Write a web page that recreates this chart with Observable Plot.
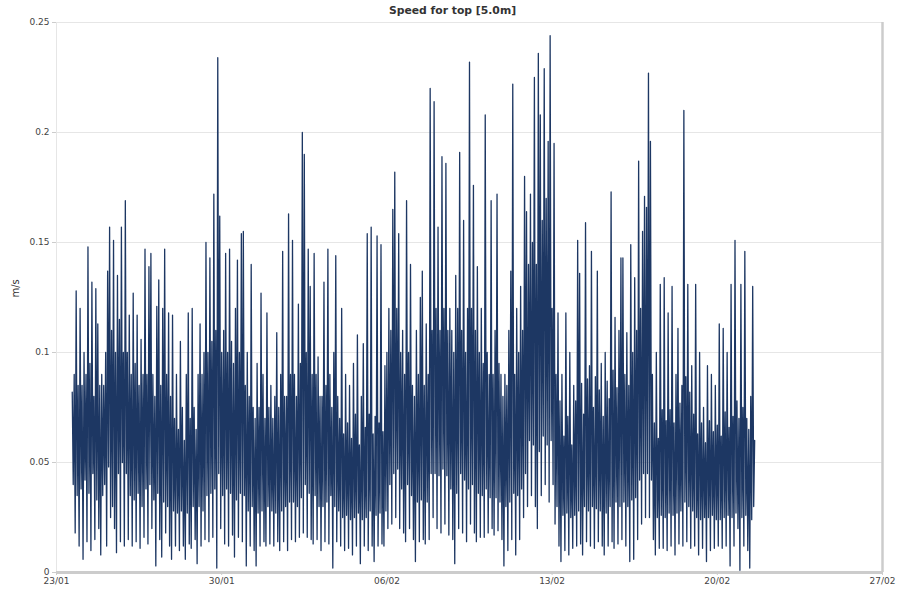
<!DOCTYPE html>
<html><head><meta charset="utf-8">
<script src="https://cdn.jsdelivr.net/npm/d3@7"></script>
<script src="https://cdn.jsdelivr.net/npm/@observablehq/plot@0.6"></script>
<style>
body{margin:0;background:#fff;}
#wrap{position:relative;width:905px;height:592px;}
#title{position:absolute;top:4px;left:0;width:905px;text-align:center;font:bold 10.8px "DejaVu Sans",Verdana,sans-serif;color:#333;}
</style></head><body><div id="wrap"><div id="title">Speed for top [5.0m]</div></div>
<script>
// x tick labels (dd/mm) and y tick values
const xTickLabels = ["23/01","30/01","06/02","13/02","20/02","27/02"];
const yTickValues = [0, 0.05, 0.1, 0.15, 0.2, 0.25];
const year = 2020;
// first sample: 23/01 16:00, one sample every hour
const firstSample = "2020-01-23T16:00:00Z";
const sampleHours = 1;

// speed (m/s) at even hours (local highs: 00h, 02h, ... 22h), one array per day
const jan23 = [0.082, 0.09, 0.128, 0.085];
const jan24 = [0.12, 0.085, 0.1, 0.09, 0.148, 0.095, 0.132, 0.08, 0.129, 0.113, 0.085, 0.09];
const jan25 = [0.085, 0.1, 0.137, 0.157, 0.11, 0.151, 0.1, 0.135, 0.115, 0.157, 0.1, 0.169];
const jan26 = [0.1, 0.117, 0.09, 0.127, 0.095, 0.117, 0.085, 0.106, 0.09, 0.147, 0.09, 0.139];
const jan27 = [0.145, 0.09, 0.08, 0.121, 0.133, 0.085, 0.12, 0.147, 0.09, 0.118, 0.08, 0.117];
const jan28 = [0.07, 0.09, 0.065, 0.105, 0.075, 0.06, 0.09, 0.118, 0.07, 0.12, 0.075, 0.065];
const jan29 = [0.09, 0.113, 0.09, 0.1, 0.15, 0.1, 0.143, 0.105, 0.172, 0.11, 0.234, 0.162];
const jan30 = [0.1, 0.11, 0.145, 0.1, 0.147, 0.105, 0.095, 0.12, 0.142, 0.1, 0.154, 0.155];
const jan31 = [0.085, 0.1, 0.08, 0.14, 0.075, 0.07, 0.095, 0.075, 0.127, 0.09, 0.07, 0.118];
const feb01 = [0.075, 0.085, 0.07, 0.08, 0.109, 0.075, 0.09, 0.146, 0.08, 0.08, 0.163, 0.09];
const feb02 = [0.151, 0.09, 0.08, 0.122, 0.095, 0.2, 0.19, 0.1, 0.147, 0.13, 0.09, 0.145];
const feb03 = [0.09, 0.098, 0.08, 0.08, 0.132, 0.085, 0.147, 0.09, 0.075, 0.1, 0.144, 0.08];
const feb04 = [0.07, 0.12, 0.063, 0.09, 0.068, 0.085, 0.061, 0.095, 0.072, 0.108, 0.058, 0.08];
const feb05 = [0.104, 0.066, 0.154, 0.072, 0.157, 0.063, 0.071, 0.153, 0.068, 0.149, 0.064, 0.094];
const feb06 = [0.1, 0.12, 0.11, 0.165, 0.182, 0.12, 0.154, 0.1, 0.11, 0.09, 0.169, 0.1];
const feb07 = [0.14, 0.085, 0.08, 0.11, 0.09, 0.125, 0.137, 0.085, 0.113, 0.09, 0.22, 0.11];
const feb08 = [0.214, 0.12, 0.157, 0.11, 0.189, 0.12, 0.186, 0.11, 0.12, 0.11, 0.1, 0.135];
const feb09 = [0.12, 0.191, 0.11, 0.16, 0.1, 0.12, 0.232, 0.12, 0.176, 0.11, 0.139, 0.1];
const feb10 = [0.12, 0.095, 0.208, 0.1, 0.09, 0.169, 0.09, 0.11, 0.172, 0.095, 0.09, 0.08];
const feb11 = [0.09, 0.085, 0.11, 0.137, 0.222, 0.09, 0.12, 0.1, 0.13, 0.11, 0.18, 0.164];
const feb12 = [0.14, 0.172, 0.15, 0.225, 0.14, 0.236, 0.208, 0.16, 0.229, 0.17, 0.196, 0.244];
const feb13 = [0.12, 0.195, 0.09, 0.118, 0.078, 0.09, 0.062, 0.118, 0.071, 0.1, 0.058, 0.085];
const feb14 = [0.078, 0.151, 0.136, 0.086, 0.072, 0.159, 0.088, 0.094, 0.146, 0.075, 0.089, 0.137];
const feb15 = [0.083, 0.095, 0.071, 0.1, 0.087, 0.079, 0.173, 0.092, 0.116, 0.084, 0.11, 0.143];
const feb16 = [0.143, 0.09, 0.109, 0.085, 0.149, 0.1, 0.134, 0.11, 0.187, 0.12, 0.155, 0.171];
const feb17 = [0.166, 0.227, 0.196, 0.09, 0.068, 0.1, 0.061, 0.131, 0.074, 0.134, 0.069, 0.118];
const feb18 = [0.074, 0.13, 0.068, 0.09, 0.111, 0.077, 0.085, 0.21, 0.089, 0.131, 0.082, 0.094];
const feb19 = [0.072, 0.131, 0.063, 0.1, 0.068, 0.075, 0.059, 0.094, 0.069, 0.09, 0.064, 0.085];
const feb20 = [0.067, 0.113, 0.062, 0.111, 0.073, 0.1, 0.066, 0.131, 0.071, 0.151, 0.078, 0.07];
const feb21 = [0.131, 0.075, 0.146, 0.07, 0.065, 0.08, 0.13, 0.06];

// speed (m/s) at odd hours (local lows: 01h, 03h, ... 23h), one array per day
const jan23o = [0.04, 0.018, 0.035, 0.012];
const jan24o = [0.038, 0.006, 0.042, 0.014, 0.036, 0.01, 0.045, 0.015, 0.033, 0.02, 0.008, 0.035];
const jan25o = [0.04, 0.012, 0.048, 0.025, 0.03, 0.02, 0.009, 0.045, 0.014, 0.05, 0.012, 0.045];
const jan26o = [0.015, 0.035, 0.012, 0.033, 0.014, 0.036, 0.011, 0.03, 0.016, 0.038, 0.013, 0.04];
const jan27o = [0.02, 0.033, 0.003, 0.036, 0.015, 0.007, 0.032, 0.018, 0.03, 0.012, 0.006, 0.028];
const jan28o = [0.012, 0.027, 0.01, 0.028, 0.012, 0.006, 0.027, 0.013, 0.011, 0.03, 0.015, 0.004];
const jan29o = [0.03, 0.012, 0.028, 0.015, 0.035, 0.014, 0.036, 0.016, 0.038, 0.002, 0.045, 0.02];
const jan30o = [0.035, 0.013, 0.038, 0.012, 0.036, 0.017, 0.007, 0.033, 0.016, 0.036, 0.014, 0.035];
const jan31o = [0.003, 0.028, 0.012, 0.03, 0.01, 0.003, 0.027, 0.012, 0.028, 0.014, 0.012, 0.03];
const feb01o = [0.013, 0.028, 0.012, 0.027, 0.014, 0.01, 0.028, 0.014, 0.03, 0.01, 0.032, 0.015];
const feb02o = [0.032, 0.014, 0.03, 0.016, 0.034, 0.018, 0.04, 0.016, 0.036, 0.015, 0.013, 0.035];
const feb03o = [0.015, 0.03, 0.01, 0.03, 0.014, 0.032, 0.013, 0.035, 0.002, 0.03, 0.014, 0.028];
const feb04o = [0.012, 0.025, 0.01, 0.026, 0.011, 0.024, 0.008, 0.025, 0.012, 0.027, 0.004, 0.024];
const feb05o = [0.012, 0.025, 0.01, 0.028, 0.012, 0.005, 0.026, 0.012, 0.027, 0.013, 0.012, 0.028];
const feb06o = [0.02, 0.04, 0.022, 0.045, 0.025, 0.047, 0.02, 0.038, 0.018, 0.014, 0.04, 0.02];
const feb07o = [0.035, 0.015, 0.005, 0.032, 0.014, 0.033, 0.015, 0.013, 0.032, 0.015, 0.045, 0.025];
const feb08o = [0.045, 0.02, 0.044, 0.018, 0.047, 0.022, 0.044, 0.017, 0.038, 0.015, 0.004, 0.036];
const feb09o = [0.02, 0.045, 0.018, 0.042, 0.014, 0.038, 0.022, 0.04, 0.018, 0.014, 0.036, 0.016];
const feb10o = [0.035, 0.016, 0.038, 0.018, 0.034, 0.02, 0.017, 0.034, 0.019, 0.032, 0.015, 0.003];
const feb11o = [0.03, 0.01, 0.032, 0.015, 0.036, 0.008, 0.035, 0.015, 0.038, 0.025, 0.045, 0.03];
const feb12o = [0.06, 0.035, 0.058, 0.03, 0.02, 0.055, 0.035, 0.062, 0.04, 0.058, 0.032, 0.06];
const feb13o = [0.04, 0.022, 0.03, 0.012, 0.005, 0.026, 0.01, 0.027, 0.008, 0.025, 0.011, 0.026];
const feb14o = [0.012, 0.028, 0.013, 0.008, 0.03, 0.014, 0.028, 0.012, 0.03, 0.011, 0.029, 0.014];
const feb15o = [0.028, 0.012, 0.008, 0.027, 0.012, 0.03, 0.014, 0.011, 0.032, 0.013, 0.03, 0.015];
const feb16o = [0.032, 0.012, 0.03, 0.005, 0.033, 0.006, 0.034, 0.015, 0.042, 0.022, 0.045, 0.025];
const feb17o = [0.045, 0.025, 0.042, 0.015, 0.008, 0.025, 0.011, 0.026, 0.011, 0.025, 0.01, 0.027];
const feb18o = [0.012, 0.026, 0.008, 0.027, 0.013, 0.028, 0.012, 0.032, 0.014, 0.03, 0.011, 0.028];
const feb19o = [0.012, 0.025, 0.008, 0.024, 0.011, 0.025, 0.005, 0.025, 0.01, 0.026, 0.011, 0.024];
const feb20o = [0.012, 0.024, 0.011, 0.025, 0.012, 0.026, 0.003, 0.025, 0.012, 0.027, 0.02, 0.001];
const feb21o = [0.025, 0.012, 0.026, 0.01, 0.002, 0.024, 0.03];

const evenDays = [jan23, jan24, jan25, jan26, jan27, jan28, jan29, jan30, jan31,
  feb01, feb02, feb03, feb04, feb05, feb06, feb07, feb08, feb09, feb10, feb11,
  feb12, feb13, feb14, feb15, feb16, feb17, feb18, feb19, feb20, feb21];
const oddDays = [jan23o, jan24o, jan25o, jan26o, jan27o, jan28o, jan29o, jan30o, jan31o,
  feb01o, feb02o, feb03o, feb04o, feb05o, feb06o, feb07o, feb08o, feb09o, feb10o, feb11o,
  feb12o, feb13o, feb14o, feb15o, feb16o, feb17o, feb18o, feb19o, feb20o, feb21o];
const speeds = [];
evenDays.forEach((ev, d) => {
  const od = oddDays[d];
  ev.forEach((v, k) => { speeds.push(v); if (k < od.length) speeds.push(od[k]); });
});
const t0 = new Date(firstSample).getTime();
const data = speeds.map((s, i) => ({date: new Date(t0 + i * sampleHours * 3600e3), speed: s}));

const tickDates = xTickLabels.map(l => {
  const [d, m] = l.split("/").map(Number);
  return new Date(Date.UTC(year, m - 1, d));
});
const fmtY = d => d === 0 ? "0" : String(d);

const chart = Plot.plot({
  width: 905, height: 592,
  marginLeft: 56, marginRight: 23, marginTop: 22, marginBottom: 20,
  style: {fontFamily: "'DejaVu Sans', Verdana, sans-serif", fontSize: "9px", color: "#444", background: "white"},
  x: {type: "utc", domain: [tickDates[0], tickDates[tickDates.length - 1]]},
  y: {domain: [0, 0.25]},
  marks: [
    Plot.gridY(yTickValues, {stroke: "#e6e6e6", strokeOpacity: 1}),
    Plot.ruleX([tickDates[0]], {stroke: "#e6e6e6"}),
    Plot.lineY(data, {x: "date", y: "speed", stroke: "#1d3763", strokeWidth: 1.3}),
    Plot.ruleY([0], {stroke: "#cccccc", strokeWidth: 3}),
    Plot.ruleX([tickDates[tickDates.length - 1]], {stroke: "#cccccc", strokeWidth: 2.5}),
    Plot.axisY(yTickValues, {tickFormat: fmtY, tickSize: 4, tickPadding: 3, stroke: "#cccccc", label: null}),
    Plot.axisX(tickDates, {tickFormat: d3.utcFormat("%d/%m"), tickSize: 3, tickPadding: 2, stroke: "#cccccc", label: null}),
    Plot.text(["m/s"], {frameAnchor: "left", dx: -41, rotate: -90, fontSize: 10, fill: "#333"})
  ]
});
document.getElementById("wrap").appendChild(chart);
</script></body></html>
